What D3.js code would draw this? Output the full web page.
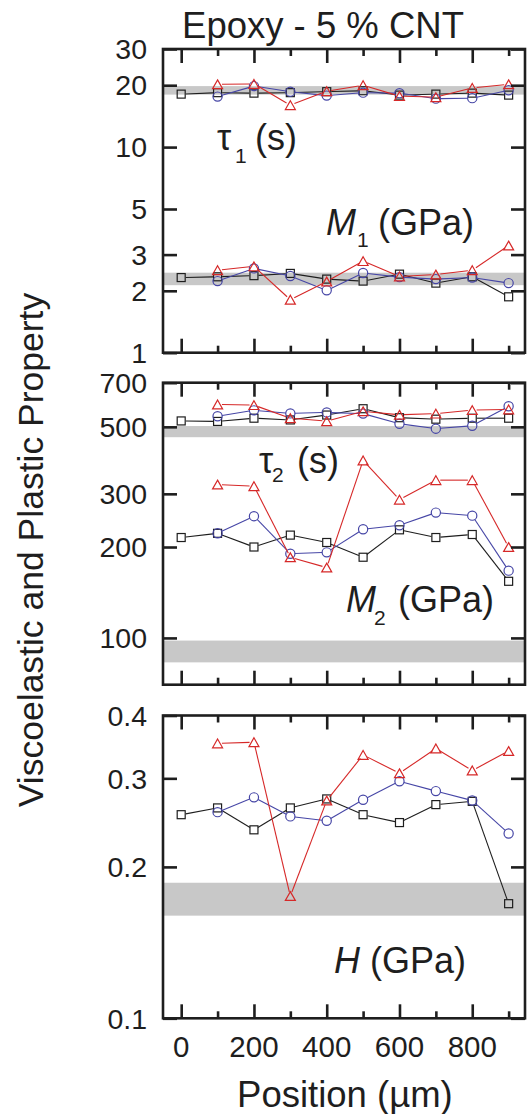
<!DOCTYPE html>
<html>
<head>
<meta charset="utf-8">
<script src="https://cdn.jsdelivr.net/npm/d3@7"></script>
<style>
  html, body { margin: 0; padding: 0; background: #fff; }
  svg { display: block; font-family: "Liberation Sans", Arial, Helvetica, sans-serif; }
</style>
</head>
<body>
<script>
// Measurement positions along the sample (µm)
const positionsAll = [0, 100, 200, 300, 400, 500, 600, 700, 800, 900];
const positionsPart = [100, 200, 300, 400, 500, 600, 700, 800, 900];

// Relaxation time tau1 (s)
const tau1Black = [18.1, 18.4, 18.3, 18.4, 18.6, 18.8, 17.9, 18.1, 18.3, 17.9];
const tau1Blue  = [17.6, 19.8, 18.6, 17.8, 18.4, 18.3, 17.2, 17.3, 18.9];
const tau1Red   = [20.2, 20.3, 16.0, 18.7, 20.0, 17.7, 17.5, 19.4, 20.2];

// Modulus M1 (GPa)
const m1Black = [2.32, 2.34, 2.37, 2.43, 2.28, 2.23, 2.41, 2.18, 2.34, 1.87];
const m1Blue  = [2.23, 2.57, 2.36, 2.01, 2.44, 2.33, 2.28, 2.32, 2.18];
const m1Red   = [2.52, 2.63, 1.81, 2.22, 2.79, 2.35, 2.40, 2.52, 3.32];

// Relaxation time tau2 (s)
const tau2Black = [523, 521, 534, 527, 547, 574, 536, 530, 534, 534];
const tau2Blue  = [542, 567, 554, 558, 553, 512, 493, 504, 585];
const tau2Red   = [593, 590, 534, 522, 563, 548, 553, 568, 571];

// Modulus M2 (GPa)
const m2Black = [215, 222, 200, 219, 207, 185, 228, 215, 220, 154];
const m2Blue  = [222, 253, 190, 192, 229, 236, 260, 254, 167];
const m2Red   = [322, 318, 185, 171, 387, 287, 333, 333, 200];

// Hardness H (GPa)
const hBlack = [0.254, 0.262, 0.237, 0.262, 0.273, 0.254, 0.245, 0.266, 0.270, 0.169];
const hBlue  = [0.257, 0.275, 0.252, 0.247, 0.272, 0.296, 0.283, 0.271, 0.233];
const hRed   = [0.352, 0.354, 0.175, 0.271, 0.334, 0.307, 0.344, 0.311, 0.340];

// Reference ranges of the neat epoxy (grey bands)
const tau1Band = [18.0, 19.8];
const m1Band   = [2.13, 2.45];
const tau2Band = [462, 503];
const m2Band   = [83, 98];
const hBand    = [0.160, 0.186];

// Axis tick values and labels
const xMajorTicks = [0, 200, 400, 600, 800];
const xMinorTicks = [100, 300, 500, 700, 900];
const yTicks1 = [1, 2, 3, 5, 10, 20, 30];
const yTicks2 = [100, 200, 300, 500, 700];
const yTicks3 = [0.1, 0.2, 0.3, 0.4];

const W = 528, H = 1114;
const FRAME_L = 163, FRAME_R = 525;
const RED = "#d62828", BLUE = "#4646a6", BLACK = "#1e1e1e", BAND = "#c8c8c8";

const svg = d3.select("body").append("svg")
  .attr("width", W).attr("height", H);

const x = d3.scaleLinear().domain([-50, 945]).range([FRAME_L, FRAME_R]);

const panels = [
  { top: 49, bottom: 352.7, domain: [1, 30], ticks: yTicks1, fmt: d => String(d),
    bands: [tau1Band, m1Band],
    groups: [
      { black: tau1Black, blue: tau1Blue, red: tau1Red },
      { black: m1Black, blue: m1Blue, red: m1Red }
    ] },
  { top: 382.7, bottom: 684.7, domain: [70, 700], ticks: yTicks2, fmt: d => String(d),
    bands: [tau2Band, m2Band],
    groups: [
      { black: tau2Black, blue: tau2Blue, red: tau2Red },
      { black: m2Black, blue: m2Blue, red: m2Red }
    ] },
  { top: 715.5, bottom: 1018.3, domain: [0.1, 0.4], ticks: yTicks3, fmt: d => d.toFixed(1),
    bands: [hBand],
    groups: [
      { black: hBlack, blue: hBlue, red: hRed }
    ] }
];

// Marker shapes
const SQ = 4, CR = 4.6, TRI_W = 5, TRI_H = 4.4;
function markerGap(shape) { return shape === "triangle" ? 4.4 : 4.6; }

function drawSeries(g, xs, ys, y, color, shape) {
  const pts = xs.map((d, i) => [x(d), y(ys[i])]);
  const gap = markerGap(shape);
  // connecting segments, interrupted around each symbol
  const segs = d3.pairs(pts).map(([a, b]) => {
    const dx = b[0] - a[0], dy = b[1] - a[1];
    const len = Math.hypot(dx, dy);
    const ux = dx / len, uy = dy / len;
    return len > 2 * gap ? [a[0] + ux * gap, a[1] + uy * gap, b[0] - ux * gap, b[1] - uy * gap] : null;
  }).filter(s => s);
  g.append("g").selectAll("line").data(segs).join("line")
    .attr("x1", d => d[0]).attr("y1", d => d[1])
    .attr("x2", d => d[2]).attr("y2", d => d[3])
    .attr("stroke", color).attr("stroke-width", 1.1);

  const mg = g.append("g").attr("fill", "none").attr("stroke", color).attr("stroke-width", 1.2);
  if (shape === "square") {
    mg.selectAll("rect").data(pts).join("rect")
      .attr("x", d => d[0] - SQ).attr("y", d => d[1] - SQ)
      .attr("width", 2 * SQ).attr("height", 2 * SQ);
  } else if (shape === "circle") {
    mg.selectAll("circle").data(pts).join("circle")
      .attr("cx", d => d[0]).attr("cy", d => d[1]).attr("r", CR);
  } else {
    mg.selectAll("path").data(pts).join("path")
      .attr("d", d => `M${d[0]},${d[1] - TRI_H}L${d[0] + TRI_W},${d[1] + TRI_H}L${d[0] - TRI_W},${d[1] + TRI_H}Z`);
  }
}

panels.forEach(p => {
  const y = d3.scaleLog().domain(p.domain).range([p.bottom, p.top]);
  const g = svg.append("g");

  // grey reference bands
  g.append("g").selectAll("rect").data(p.bands).join("rect")
    .attr("x", FRAME_L).attr("width", FRAME_R - FRAME_L)
    .attr("y", d => y(d[1])).attr("height", d => y(d[0]) - y(d[1]))
    .attr("fill", BAND);

  // data series: black squares, blue circles, red triangles
  p.groups.forEach(s => {
    drawSeries(g, positionsAll, s.black, y, BLACK, "square");
    drawSeries(g, positionsPart, s.blue, y, BLUE, "circle");
    drawSeries(g, positionsPart, s.red, y, RED, "triangle");
  });

  // axes with inward ticks on all four sides
  const tickStyle = sel => {
    sel.select(".domain").remove();
    sel.selectAll(".tick line").attr("stroke", BLACK).attr("stroke-width", 2.6);
  };
  g.append("g").attr("transform", `translate(${FRAME_L},0)`)
    .call(d3.axisRight(y).tickValues(p.ticks).tickSize(14).tickFormat(""))
    .call(tickStyle);
  g.append("g").attr("transform", `translate(${FRAME_R},0)`)
    .call(d3.axisLeft(y).tickValues(p.ticks).tickSize(14).tickFormat(""))
    .call(tickStyle);
  [[p.top, d3.axisBottom], [p.bottom, d3.axisTop]].forEach(([yy, ax]) => {
    g.append("g").attr("transform", `translate(0,${yy})`)
      .call(ax(x).tickValues(xMajorTicks).tickSize(14).tickFormat(""))
      .call(tickStyle);
    g.append("g").attr("transform", `translate(0,${yy})`)
      .call(ax(x).tickValues(xMinorTicks).tickSize(7).tickFormat(""))
      .call(tickStyle);
  });

  // y tick labels
  g.append("g").selectAll("text").data(p.ticks).join("text")
    .attr("x", 147).attr("y", d => y(d)).attr("dy", "0.36em")
    .attr("text-anchor", "end")
    .attr("font-size", 28.5).attr("fill", BLACK)
    .text(p.fmt);

  // frame
  g.append("rect")
    .attr("x", FRAME_L).attr("y", p.top)
    .attr("width", FRAME_R - FRAME_L).attr("height", p.bottom - p.top)
    .attr("fill", "none").attr("stroke", BLACK).attr("stroke-width", 2.6);
});

// x tick labels under the bottom panel
svg.append("g").selectAll("text").data(xMajorTicks).join("text")
  .attr("x", d => x(d)).attr("y", 1056.5)
  .attr("text-anchor", "middle").attr("font-size", 29.5).attr("fill", BLACK)
  .text(d => d);

// axis titles
svg.append("text")
  .attr("x", x(450)).attr("y", 1106.5)
  .attr("text-anchor", "middle").attr("font-size", 36.5).attr("fill", BLACK)
  .text("Position (µm)");

svg.append("text")
  .attr("transform", "translate(43,550) rotate(-90)")
  .attr("text-anchor", "middle").attr("font-size", 35.5).attr("fill", BLACK)
  .text("Viscoelastic and Plastic Property");

svg.append("text")
  .attr("x", 323).attr("y", 38)
  .attr("text-anchor", "middle").attr("font-size", 36.5).attr("fill", BLACK)
  .text("Epoxy - 5 % CNT");

// quantity labels inside the panels
function quantityLabel(sym, italic, sub, unit, sx, sy, subX, subY, unitX) {
  svg.append("text").attr("x", sx).attr("y", sy)
    .attr("font-size", 36).attr("fill", BLACK)
    .attr("font-style", italic ? "italic" : "normal")
    .text(sym);
  if (sub) {
    svg.append("text").attr("x", subX).attr("y", subY)
      .attr("font-size", 21).attr("fill", BLACK).text(sub);
  }
  svg.append("text").attr("x", unitX).attr("y", sy)
    .attr("font-size", 36).attr("fill", BLACK).text(unit);
}
quantityLabel("τ", false, "1", "(s)", 217, 150, 235, 163, 255);
quantityLabel("M", true, "1", "(GPa)", 326, 235, 357, 247, 378);
quantityLabel("τ", false, "2", "(s)", 259, 473, 272, 482, 297);
quantityLabel("M", true, "2", "(GPa)", 346, 612, 374, 625, 398);
quantityLabel("H", true, null, "(GPa)", 334, 973, 0, 0, 370);
</script>
</body>
</html>
